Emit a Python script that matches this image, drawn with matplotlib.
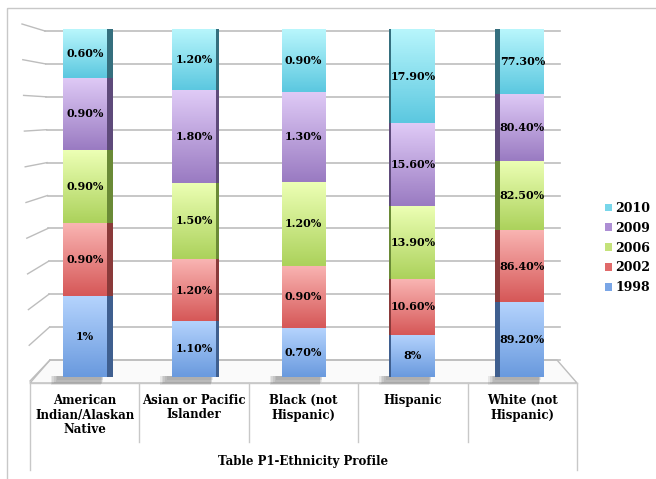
import matplotlib
matplotlib.use("Agg")
import matplotlib.pyplot as plt
import numpy as np
from matplotlib.colors import LinearSegmentedColormap
from matplotlib.patches import Polygon, Rectangle

categories = ["American\nIndian/Alaskan\nNative", "Asian or Pacific\nIslander",
              "Black (not\nHispanic)", "Hispanic", "White (not\nHispanic)"]
years = ["1998", "2002", "2006", "2009", "2010"]
v1998 = [1.0, 1.1, 0.7, 8.0, 89.2]
v2002 = [0.9, 1.2, 0.9, 10.6, 86.4]
v2006 = [0.9, 1.5, 1.2, 13.9, 82.5]
v2009 = [0.9, 1.8, 1.3, 15.6, 80.4]
v2010 = [0.6, 1.2, 0.9, 17.9, 77.3]
labels1998 = ["1%", "1.10%", "0.70%", "8%", "89.20%"]
labels2002 = ["0.90%", "1.20%", "0.90%", "10.60%", "86.40%"]
labels2006 = ["0.90%", "1.50%", "1.20%", "13.90%", "82.50%"]
labels2009 = ["0.90%", "1.80%", "1.30%", "15.60%", "80.40%"]
labels2010 = ["0.60%", "1.20%", "0.90%", "17.90%", "77.30%"]
title = "Table P1-Ethnicity Profile"

series = [v1998, v2002, v2006, v2009, v2010]
labels = [labels1998, labels2002, labels2006, labels2009, labels2010]
# (light top, dark bottom, legend colour, side colour)
shades = [("#b4d3fd", "#6a9ade", "#7aa6e6", "#3f5f8f"),
          ("#f9b4b2", "#d65858", "#e06a6a", "#8a3a3a"),
          ("#ecffb4", "#acd25c", "#c4e27a", "#6a8a36"),
          ("#dfcaf6", "#9a7bc2", "#ad8ed4", "#5e4a7a"),
          ("#b8f6fc", "#5cc8e0", "#78d6ea", "#356f7e")]

W, H = 656, 479
fig = plt.figure(figsize=(W / 100, H / 100), dpi=100)
fnt = dict(family="DejaVu Serif", fontweight="bold")

# background frame in pixel coordinates
bg = fig.add_axes([0, 0, 1, 1])
bg.set_xlim(0, W)
bg.set_ylim(H, 0)
bg.axis("off")
bg.add_patch(Rectangle((7, 8), W, H, fill=False, ec="#c8c8c8", lw=1))

gc = "#bdbdbd"
ticks = np.arange(0, 101, 10)
for t in ticks:
    f = t / 100
    gy = 360 - t * 3.29
    bg.plot([50 - 5 * f, 560], [gy, gy], color=gc, lw=1.2)
    bg.plot([30 - 8 * f, 50 - 5 * f], [gy + 21 - 28 * f, gy], color=gc, lw=1.0)
# floor
bg.add_patch(Polygon([(50, 360), (557, 360), (577, 383), (30, 383)],
                     closed=True, fc="#fafafa", ec="#bdbdbd", lw=1))
# category table
bg.plot([30, 577], [383, 383], color="#c8c8c8", lw=1)
bg.plot([30, 30], [383, 470], color="#c8c8c8", lw=1)
bg.plot([577, 577], [383, 470], color="#c8c8c8", lw=1)
edges = np.linspace(30, 577, len(categories) + 1)
for xe in edges[1:-1]:
    bg.plot([xe, xe], [383, 442], color="#c8c8c8", lw=1)
for i, c in enumerate(categories):
    bg.text((edges[i] + edges[i + 1]) / 2, 394, c, ha="center", va="top",
            fontsize=8.5, linespacing=1.15, **fnt)
bg.text((30 + 577) / 2, 461, title, ha="center", va="center", fontsize=8.5, **fnt)

# bars
ax = fig.add_axes([30 / W, 1 - 377 / H, 547 / W, 348 / H])
ax.patch.set_alpha(0)
ax.set_xlim(-0.5, len(categories) - 0.5)
ax.set_ylim(0, 100)
ax.axis("off")

data = np.array(series)
pct = data / data.sum(axis=0) * 100
x = np.arange(len(categories))
bw = 0.40
px = 547 / 5  # pixels per category unit

# soft shadows on floor
for xi in x:
    for k in range(5):
        ax.add_patch(Rectangle((xi - bw / 2 - 0.11 + k * 0.015, -2.4 + k * 0.35),
                               bw + 0.06 - k * 0.01, 2.8 - k * 0.35, fc="#606060",
                               alpha=0.12, ec="none", clip_on=False, zorder=1))

bottom = np.zeros(len(categories))
for s in range(len(series)):
    light, dark, leg, side = shades[s]
    cmap = LinearSegmentedColormap.from_list("g%d" % s, [dark, light])
    bars = ax.bar(x, pct[s], bw, bottom=bottom, color=leg, label=years[s],
                  edgecolor="none", zorder=3)
    for i, b in enumerate(bars):
        y0, y1 = bottom[i], bottom[i] + pct[s][i]
        im = ax.imshow(np.linspace(0, 1, 50).reshape(-1, 1), cmap=cmap,
                       extent=[x[i] - bw / 2, x[i] + bw / 2, y0, y1],
                       origin="lower", aspect="auto", zorder=3)
        im.set_clip_path(b)
        d = 2.8 * abs(x[i] - 2.2) / px
        if x[i] < 2.2:
            xs = [x[i] + bw / 2, x[i] + bw / 2 + d]
        else:
            xs = [x[i] - bw / 2 - d, x[i] - bw / 2]
        ax.add_patch(Rectangle((xs[0], y0), xs[1] - xs[0], y1 - y0,
                               fc=side, ec="none", zorder=2))
        ax.text(x[i], (y0 + y1) / 2, labels[s][i], ha="center", va="center",
                fontsize=8, zorder=5, **fnt)
    bottom += pct[s]
ax.set_xlim(-0.5, len(categories) - 0.5)
ax.set_ylim(0, 100)

handles, lbls = ax.get_legend_handles_labels()
leg = fig.legend(handles[::-1], lbls[::-1], loc="center left",
                 bbox_to_anchor=(596 / W, 1 - 248 / H), frameon=False,
                 handlelength=0.55, handleheight=0.55, handletextpad=0.3,
                 labelspacing=0.55, borderpad=0.2,
                 prop=dict(family="DejaVu Serif", weight="bold", size=9))

fig.savefig("out.png", dpi=100)
